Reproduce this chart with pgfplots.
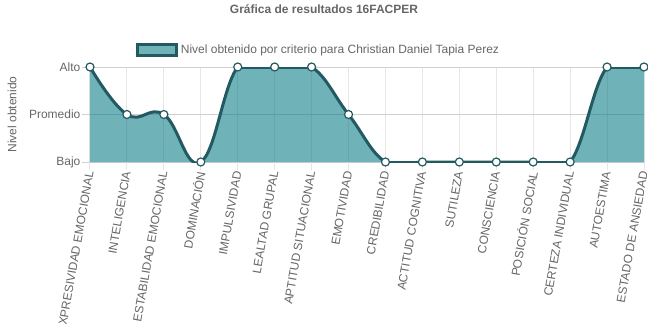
\documentclass[border=0pt]{standalone}
\usepackage{pgfplots}
\pgfplotsset{compat=1.18}
\usepackage{fontspec}
\setmainfont{Liberation Sans}

\definecolor{txtgray}{HTML}{666666}
\definecolor{linedark}{HTML}{235A61}
\definecolor{areabase}{HTML}{0F7E87}
\definecolor{hgrid}{HTML}{D0D0D0}
\definecolor{vgrid}{HTML}{E6E6E6}

% Levels: 1 = Bajo, 2 = Promedio, 3 = Alto
\pgfplotstableread{
x y
0  3
1  2
2  2
3  1
4  3
5  3
6  3
7  2
8  1
9  1
10 1
11 1
12 1
13 1
14 3
15 3
}\resultados

\begin{document}
\begin{tikzpicture}
\useasboundingbox (-67.5pt,-121.5pt) rectangle (418.5pt,121.5pt);
\begin{axis}[
  at={(0pt,0pt)}, anchor=south west,
  scale only axis, width=415.5pt, height=71.25pt,
  xmin=0, xmax=15, ymin=1, ymax=3,
  clip mode=individual,
  axis line style={draw=none},
  tick align=outside, tick pos=left,
  major tick length=6pt,
  xtick={0,...,15},
  xticklabels={EXPRESIVIDAD EMOCIONAL, INTELIGENCIA, ESTABILIDAD EMOCIONAL,
    DOMINACIÓN, IMPULSIVIDAD, LEALTAD GRUPAL, APTITUD SITUACIONAL, EMOTIVIDAD,
    CREDIBILIDAD, ACTITUD COGNITIVA, SUTILEZA, CONSCIENCIA, POSICIÓN SOCIAL,
    CERTEZA INDIVIDUAL, AUTOESTIMA, ESTADO DE ANSIEDAD},
  ytick={1,2,3},
  yticklabels={Bajo, Promedio, Alto},
  xmajorgrids, ymajorgrids,
  x grid style={vgrid, line width=0.75pt},
  y grid style={hgrid, line width=0.75pt},
  xtick style={vgrid, line width=0.75pt},
  ytick style={hgrid, line width=0.75pt},
  xticklabel style={rotate=80, anchor=east, inner sep=1pt, font=\fontsize{9}{10}\selectfont, text=txtgray},
  yticklabel style={anchor=east, inner sep=1pt, font=\fontsize{9}{10}\selectfont, text=txtgray},
  ylabel={Nivel obtenido},
  ylabel style={at={(axis description cs:-0.1408,0.5)}, anchor=center, font=\fontsize{9}{10}\selectfont, text=txtgray},
  title={Gráfica de resultados 16FACPER},
  title style={at={(axis description cs:0.4224,1.526)}, anchor=center, font=\bfseries\fontsize{9}{10}\selectfont, text=txtgray},
  legend style={at={(axis description cs:0.083,1.179)}, anchor=west, draw=none, fill=none,
    inner sep=0pt, font=\fontsize{9}{10}\selectfont, text=txtgray},
  legend image code/.code={
    \draw[fill=areabase, fill opacity=0.6, draw=linedark, line width=2.25pt]
      (0pt,-4.125pt) rectangle (29.25pt,4.125pt);
  },
]
% filled area under the curve
\addplot[smooth, tension=0.72, draw=none, fill=areabase, fill opacity=0.6, forget plot]
  table[x=x, y=y] {\resultados} \closedcycle;
% runs of equal values along the lower and upper edges stay drawn at the edge
\addplot[sharp plot, line width=2.25pt, draw=linedark, no marks, forget plot,
  restrict y to domain=0.99:1.01, unbounded coords=jump]
  table[x=x, y=y] {\resultados};
\addplot[sharp plot, line width=2.25pt, draw=linedark, no marks, forget plot,
  restrict y to domain=2.99:3.01, unbounded coords=jump]
  table[x=x, y=y] {\resultados};
% curve with point markers
\addplot[smooth, tension=0.72, line width=2.25pt, draw=linedark,
  mark=*, mark size=3pt,
  mark options={fill=white, draw=linedark, line width=0.9pt}]
  table[x=x, y=y] {\resultados};
\addlegendentry{Nivel obtenido por criterio para Christian Daniel Tapia Perez}
\end{axis}
\end{tikzpicture}
\end{document}
